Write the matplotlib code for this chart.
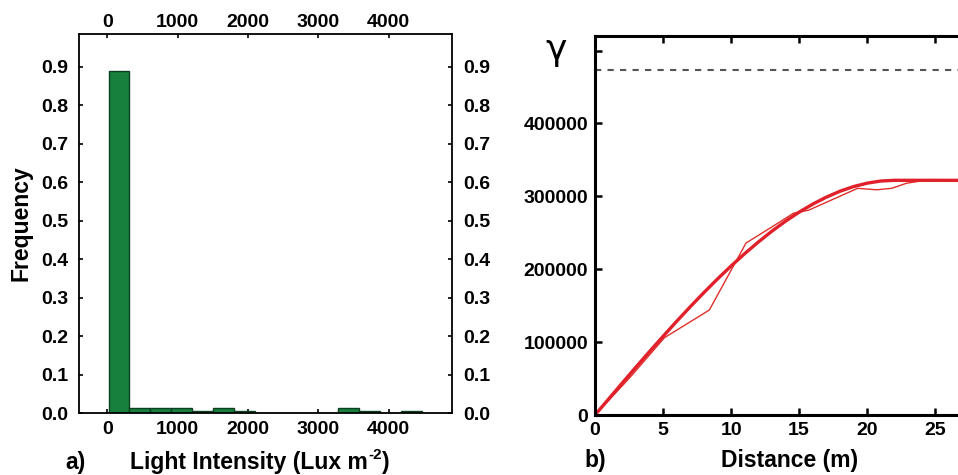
import matplotlib
matplotlib.use("Agg")
import matplotlib.pyplot as plt
import matplotlib.transforms as mtrans
import numpy as np

# ---------------- data ----------------
# panel a: histogram of light intensity
bin_edges = [20, 317, 614, 911, 1208, 1505, 1802, 2099, 2396, 2693, 2990,
             3287, 3584, 3881, 4178, 4475]
frequency = [0.89, 0.012, 0.012, 0.012, 0.005, 0.012, 0.005, 0, 0, 0, 0,
             0.012, 0.005, 0, 0.005]
hist_xticks = [0, 1000, 2000, 3000, 4000]
hist_yticks = [0.0, 0.1, 0.2, 0.3, 0.4, 0.5, 0.6, 0.7, 0.8, 0.9]

# panel b: variogram
dist_model = [0, 1, 2, 3, 4, 5, 6, 7, 8, 9, 10, 11, 12, 13, 14, 15, 16, 17,
              18, 19, 20, 21, 22, 23, 24, 25, 26, 27]
gamma_model = [0, 21900, 43800, 65500, 86900, 107900, 128500, 148500, 167900,
               186600, 204400, 221400, 237300, 252200, 265900, 278300, 289300,
               298900, 307000, 313400, 318100, 321000, 322000, 322000, 322000,
               322000, 322000, 322000]
dist_emp = [0, 1, 2.5, 5.1, 8.4, 11.1, 13.0, 14.6, 15.7, 17.5, 19.3, 20.7,
            21.8, 22.9, 24.6, 26.7]
gamma_emp = [0, 20000, 50000, 106000, 144000, 236000, 258000, 277000, 281000,
             296000, 311000, 309000, 311000, 318000, 323000, 320500]
variance_level = 473000
vario_xticks = [0, 5, 10, 15, 20, 25]
vario_yticks = [0, 100000, 200000, 300000, 400000, 500000]
vario_ylabels = ["0", "100000", "200000", "300000", "400000", ""]

# ---------------- style ----------------
plt.rcParams['font.family'] = ['Liberation Sans', 'DejaVu Sans']
plt.rcParams['font.weight'] = 'bold'

W, H = 958, 475
fig = plt.figure(figsize=(W / 100, H / 100), dpi=100)

def rect(l, t, r, b):
    return [l / W, 1 - b / H, (r - l) / W, (b - t) / H]

TICK_FS = 14
LAB_FS = 16.5

# ---------------- panel a ----------------
ax = fig.add_axes(rect(79, 34, 452, 413))
edges = np.array(bin_edges)
ax.bar(edges[:-1], frequency, width=np.diff(edges), align='edge',
       color='#17803d', edgecolor='#0c4020', linewidth=1.0, zorder=2)
ax.set_xlim(-400, 4900)
ax.set_ylim(0, 0.985)
ax.set_xticks(hist_xticks)
ax.set_yticks(hist_yticks)
ax.set_yticklabels([f"{v:.1f}" for v in hist_yticks])
ax.tick_params(direction='in', length=3, width=1.2, labelsize=TICK_FS,
               top=True, right=True, labeltop=True, labelright=True,
               pad=8)
ax.tick_params(axis='x', pad=6)
for lab in ax.get_xticklabels() + ax.get_yticklabels():
    lab.set_fontweight('bold')
for s in ax.spines.values():
    s.set_linewidth(1.3)
ax.set_ylabel("Frequency", fontsize=LAB_FS, fontweight='bold', labelpad=6)

# bring top tick labels a little closer to the frame
for t in ax.xaxis.get_major_ticks():
    t.label2.set_transform(t.label2.get_transform() +
                           mtrans.ScaledTranslation(0, -5 / 100,
                                                    fig.dpi_scale_trans))

# x label assembled so the superscript keeps a short hyphen
lab_y = 1 - 462 / H
t1 = fig.text(130 / W, lab_y, "Light Intensity (Lux m", fontsize=LAB_FS,
              fontweight='bold', ha='left', va='center')
fig.canvas.draw()
bb = t1.get_window_extent()
x_end = bb.x1 / W
t2 = fig.text(x_end + 0.5 / W, lab_y + 7 / H, "-2", fontsize=11,
              fontweight='bold', ha='left', va='center')
fig.canvas.draw()
bb2 = t2.get_window_extent()
fig.text(bb2.x1 / W + 0.5 / W, lab_y, ")", fontsize=LAB_FS,
         fontweight='bold', ha='left', va='center')
fig.text(75 / W, lab_y, "a)", fontsize=LAB_FS, fontweight='bold',
         ha='center', va='center')

# ---------------- panel b ----------------
bx = fig.add_axes(rect(595, 36, 976, 415))
bx.set_xlim(0, 28)
bx.set_ylim(0, 520000)
bx.axhline(variance_level, color='#555555', linestyle=(0, (3, 3)),
           linewidth=1.5)
bx.plot(dist_emp, gamma_emp, color='#e0302a', linewidth=1.0)
bx.plot(dist_model, gamma_model, color='#e0202a', linewidth=2.4)
bx.set_xticks(vario_xticks)
bx.set_yticks(vario_yticks)
bx.set_yticklabels(vario_ylabels)
bx.tick_params(direction='in', length=5, width=1.8, labelsize=TICK_FS,
               top=True, labeltop=False, pad=5)
for lab in bx.get_xticklabels() + bx.get_yticklabels():
    lab.set_fontweight('bold')
for s in bx.spines.values():
    s.set_linewidth(2.2)
fig.text(790 / W, 1 - 460 / H, "Distance (m)", fontsize=LAB_FS,
         fontweight='bold', ha='center', va='center')
fig.text(595 / W, 1 - 460 / H, "b)", fontsize=LAB_FS, fontweight='bold',
         ha='center', va='center')
fig.text(556 / W, 1 - 50 / H, "γ", fontsize=26, family='DejaVu Sans',
         fontweight='normal', ha='center', va='center')

fig.savefig("out.png", dpi=100)
